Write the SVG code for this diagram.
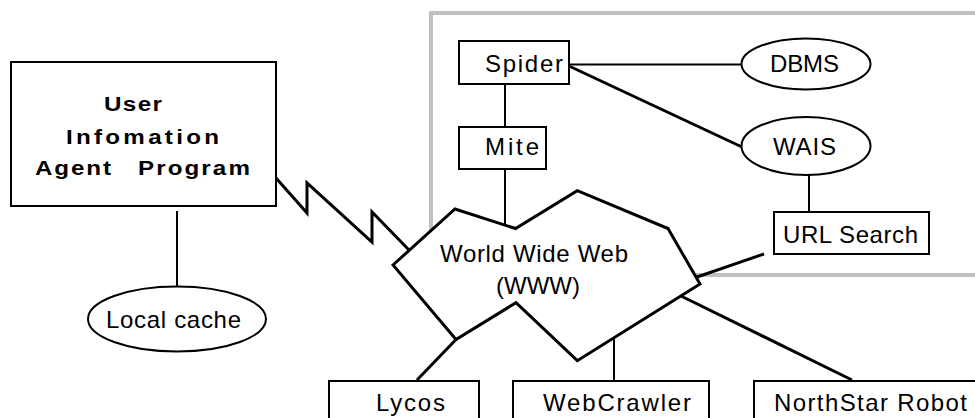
<svg xmlns="http://www.w3.org/2000/svg" width="975" height="418" viewBox="0 0 975 418">
<style>
  .box { fill: #fff; stroke: #000; stroke-width: 2; }
  .ell { fill: #fff; stroke: #000; stroke-width: 2; }
  .lbl { font-family: "Liberation Sans", Arial, sans-serif; font-size: 24px; fill: #000; }
  .bold { font-family: "Liberation Sans", Arial, sans-serif; font-size: 20.5px; font-weight: bold; fill: #000; }
  .thin { stroke: #000; stroke-width: 2; fill: none; }
  .thick { stroke: #000; stroke-width: 3; fill: none; stroke-linejoin: miter; }
</style>
<rect width="975" height="418" fill="#fff"/>
<g id="frame">
  <rect x="431" y="13" width="600" height="262" fill="none" stroke="#c0c0c0" stroke-width="4"/>
</g>
<g id="connectors">
  <line class="thin" x1="505" y1="84" x2="505" y2="127"/>
  <line class="thin" x1="505" y1="169" x2="505" y2="226"/>
  <line class="thin" x1="569" y1="64.5" x2="742" y2="64.5"/>
  <line class="thick" x1="570" y1="66.5" x2="742" y2="147"/>
  <line class="thin" x1="809" y1="175" x2="809" y2="212"/>
  <line class="thin" x1="177" y1="211" x2="177" y2="287"/>
  <polyline class="thick" points="276,178 307,213 307,183 372,242 372,212 409,250"/>
  <line class="thick" x1="697" y1="277" x2="764" y2="254"/>
  <line class="thick" x1="456" y1="339.5" x2="417" y2="380"/>
  <line class="thin" x1="614" y1="338" x2="614" y2="381"/>
  <line class="thick" x1="681" y1="296" x2="852" y2="380"/>
</g>
<g id="www">
  <polygon points="393,265 455,209 515.5,228.5 577.3,190.7 668,228.5 700,284 577.3,360.7 516,302.7 456,339.5" fill="#fff" stroke="#000" stroke-width="3" stroke-linejoin="miter"/>
  <text class="lbl" x="440" y="262" textLength="188" lengthAdjust="spacing">World Wide Web</text>
  <text class="lbl" x="496" y="293.5" textLength="84" lengthAdjust="spacing">(WWW)</text>
</g>
<g id="user-agent">
  <rect class="box" x="11" y="62" width="265" height="144"/>
  <g transform="scale(1.18,1)">
    <text class="bold" x="88.1" y="111" textLength="49.2" lengthAdjust="spacing">User</text>
    <text class="bold" x="55.9" y="144" textLength="129.7" lengthAdjust="spacing">Infomation</text>
    <text class="bold" y="175"><tspan x="29.7" textLength="64.4" lengthAdjust="spacing">Agent</tspan><tspan x="116.9" textLength="94.9" lengthAdjust="spacing">Program</tspan></text>
  </g>
</g>
<g id="local-cache">
  <ellipse class="ell" cx="177" cy="319" rx="89" ry="32.5"/>
  <text class="lbl" x="106" y="327.5" textLength="135" lengthAdjust="spacing">Local cache</text>
</g>
<g id="spider">
  <rect class="box" x="459" y="41" width="110" height="43"/>
  <text class="lbl" x="485" y="72" textLength="78" lengthAdjust="spacing">Spider</text>
</g>
<g id="mite">
  <rect class="box" x="459" y="127" width="87" height="42"/>
  <text class="lbl" x="485" y="155" textLength="54" lengthAdjust="spacing">Mite</text>
</g>
<g id="dbms">
  <ellipse class="ell" cx="806" cy="64" rx="64.5" ry="25.5"/>
  <text class="lbl" x="770" y="72" textLength="69" lengthAdjust="spacing">DBMS</text>
</g>
<g id="wais">
  <ellipse class="ell" cx="806" cy="146" rx="64.5" ry="29"/>
  <text class="lbl" x="773" y="155" textLength="63" lengthAdjust="spacing">WAIS</text>
</g>
<g id="url-search">
  <rect class="box" x="774" y="212" width="155" height="42"/>
  <text class="lbl" x="783" y="242.5" textLength="135" lengthAdjust="spacing">URL Search</text>
</g>
<g id="lycos">
  <rect class="box" x="329" y="381" width="150" height="60"/>
  <text class="lbl" x="376" y="411" textLength="69" lengthAdjust="spacing">Lycos</text>
</g>
<g id="webcrawler">
  <rect class="box" x="513" y="381" width="196" height="60"/>
  <text class="lbl" x="543" y="411" textLength="148" lengthAdjust="spacing">WebCrawler</text>
</g>
<g id="northstar">
  <rect class="box" x="754" y="381" width="240" height="60"/>
  <text class="lbl" x="774" y="410.5" textLength="193" lengthAdjust="spacing">NorthStar  Robot</text>
</g>
</svg>
